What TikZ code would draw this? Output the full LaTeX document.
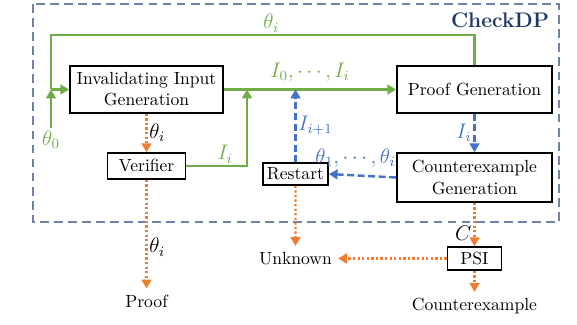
\documentclass[tikz,border=0pt]{standalone}
\usetikzlibrary{arrows.meta}

\definecolor{cgreen}{HTML}{70AD47}
\definecolor{cblue}{HTML}{4472C4}
\definecolor{corange}{HTML}{ED7D31}
\definecolor{cframe}{HTML}{6F83A8}
\definecolor{cnavy}{HTML}{1F3864}

\tikzset{
	block/.style={
		rectangle,
		draw=black, line width=0.9pt,
		inner sep=2pt,
		align=center,
		fill=white,
	},
	lbl/.style={font=\large, inner sep=1pt},
	arrowed/.style={-{Triangle[length=5pt,width=5.5pt]}},
	gline/.style={draw=cgreen, line width=1.4pt},
	bline/.style={draw=cblue, line width=1.4pt, dash pattern=on 4pt off 2pt},
	oline/.style={draw=corange, line width=1.4pt, dash pattern=on 1.3pt off 1.3pt},
	frame/.style={draw=cframe, line width=0.8pt, dash pattern=on 5pt off 3pt}
}

\begin{document}
\begin{tikzpicture}
	\useasboundingbox (0,0) rectangle (11.54,-6.5);
	
	\draw[frame] (0.66,-0.08) rectangle (11.18,-4.44);
	\node[font=\large\bfseries, text=cnavy](CDP) at (10.0,-0.40){CheckDP};
	
	\node[block, minimum width=3.06cm, minimum height=0.94cm](INV) at (2.93,-1.79){Invalidating Input\\Generation};
	\node[block, right of=INV, node distance=6.56cm, minimum width=3.1cm, minimum height=0.94cm](PG){Proof Generation};
	\node[block, below of=PG, node distance=1.76cm, minimum width=3.1cm, minimum height=0.98cm](CEX){Counterexample\\Generation};
	\node[block, below of=INV, node distance=1.53cm, minimum width=1.56cm, minimum height=0.52cm](VER){Verifier};
	\node[block, minimum width=1.3cm, minimum height=0.44cm](RST) at (5.91,-3.48){Restart};
	\node[block, below of=CEX, node distance=1.62cm, minimum width=1.08cm, minimum height=0.46cm](PSI){PSI};
	
	\node[below of=VER, node distance=2.70cm](PRF){Proof};
	\node[below of=PSI, node distance=0.95cm](CE){Counterexample};
	\node[left of=PSI, node distance=3.58cm](UNK){Unknown};
	
	\coordinate(TL) at (1.02,-0.70);
	\coordinate(JL) at (TL |- INV.west);
	\coordinate(JI) at (4.94,-1.79);
	\coordinate(JR) at (RST.north |- INV.east);
	
	\draw[gline] (PG.north) |- node[pos=0.74, above, lbl, text=cgreen]{$\theta_i$} (TL) -- (JL);
	\draw[gline, arrowed] (JL) -- (INV.west);
	\node[lbl, text=cgreen, below of=JL, node distance=1.0cm](TH0){$\theta_0$};
	\draw[gline, arrowed] (TH0.north) -- (JL);
	\draw[gline, arrowed] (INV.east) -- node[above, lbl, yshift=3pt, text=cgreen]{$I_0,\cdots,I_i$} (PG.west);
	\draw[gline, arrowed] (VER.east) -| node[pos=0.32, above, lbl, text=cgreen]{$I_i$} (JI);
	
	\draw[bline, arrowed] (RST.north) -- node[right, lbl, text=cblue]{$I_{i+1}$} (JR);
	\draw[bline, arrowed] (PG.south) -- node[left, lbl, text=cblue]{$I_i$} (CEX.north);
	\draw[bline, arrowed] (CEX.west) -- node[above, lbl, yshift=3pt, xshift=-4pt, text=cblue]{$\theta_1,\cdots,\theta_i$} (RST.east);
	
	\draw[oline, arrowed] (INV.south) -- node[right, lbl]{$\theta_i$} (VER.north);
	\draw[oline, arrowed] (VER.south) -- node[right, lbl, pos=0.62]{$\theta_i$} (PRF.north);
	\draw[oline, arrowed] (RST.south) -- (UNK.north);
	\draw[oline, arrowed] (CEX.south) -- node[left, lbl, pos=0.7]{$C$} (PSI.north);
	\draw[oline, arrowed] (PSI.west) -- (UNK.east);
	\draw[oline, arrowed] (PSI.south) -- (CE.north);
\end{tikzpicture}
\end{document}
